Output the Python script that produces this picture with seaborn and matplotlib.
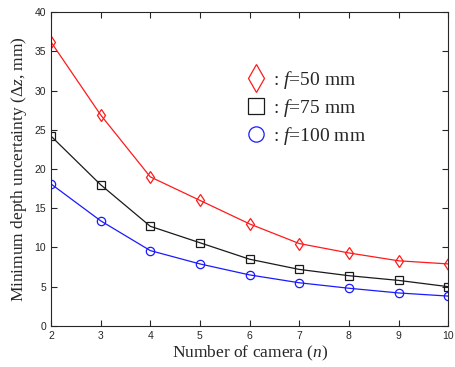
import pandas as pd
import matplotlib
matplotlib.use('Agg')
import matplotlib.pyplot as plt
import seaborn as sns
from matplotlib.lines import Line2D

cameras = [2, 3, 4, 5, 6, 7, 8, 9, 10]
f50 = [36.2, 26.9, 19.0, 16.0, 13.0, 10.5, 9.3, 8.3, 7.9]
f75 = [24.2, 18.0, 12.7, 10.6, 8.5, 7.2, 6.4, 5.8, 5.0]
f100 = [18.1, 13.4, 9.6, 7.9, 6.5, 5.5, 4.8, 4.2, 3.8]
series_names = ['f50', 'f75', 'f100']
legend_labels = [r': $\mathit{f}$=50 mm', r': $\mathit{f}$=75 mm', r': $\mathit{f}$=100 mm']

sns.set_style('ticks')
plt.rcParams['font.family'] = ['Liberation Sans', 'DejaVu Sans']
plt.rcParams['mathtext.fontset'] = 'custom'
plt.rcParams['mathtext.rm'] = 'Liberation Serif'
plt.rcParams['mathtext.it'] = 'Liberation Serif:italic'

df = pd.DataFrame({
    'n': cameras * 3,
    'dz': f50 + f75 + f100,
    'focal': [s for s in series_names for _ in cameras],
})

colors = {'f50': '#ff1a1a', 'f75': '#1a1a1a', 'f100': '#1a1aff'}
markers = {'f50': 'd', 'f75': 's', 'f100': 'o'}

fig = plt.figure(figsize=(4.55, 3.67), dpi=100)
ax = fig.add_axes([0.112, 0.112, 0.873, 0.855])

for name in series_names:
    sub = df[df['focal'] == name]
    sns.lineplot(data=sub, x='n', y='dz', ax=ax, color=colors[name], lw=0.9,
                 marker=markers[name], markersize=6.5 if name == 'f50' else 6,
                 markerfacecolor='none', markeredgecolor=colors[name],
                 markeredgewidth=0.9, legend=False)

ax.set_xlim(2, 10)
ax.set_ylim(0, 40)
ax.set_xticks(cameras)
ax.set_yticks(range(0, 41, 5))
ax.tick_params(direction='in', top=True, right=True, labelsize=7.5, length=4, width=0.8)
for sp in ax.spines.values():
    sp.set_linewidth(0.8)

serif = {'family': 'Liberation Serif', 'size': 12.5}
ax.set_xlabel(r'Number of camera ($\mathit{n}$)', fontdict=serif, labelpad=2)
ax.set_ylabel(r'Minimum depth uncertainty ($\mathit{\Delta z}$, mm)', fontdict=serif, labelpad=4)

handles = [Line2D([], [], ls='none', marker=markers[s], markersize=14 if s == 'f50' else 11,
                  markerfacecolor='none', markeredgecolor=colors[s], markeredgewidth=0.9)
           for s in series_names]
ax.legend(handles, legend_labels, loc='upper left', bbox_to_anchor=(0.475, 0.845),
          frameon=False, prop={'family': 'Liberation Serif', 'size': 14},
          handlelength=0.9, handletextpad=0.4, labelspacing=0.32, borderaxespad=0)

fig.savefig('out.png', dpi=100)
